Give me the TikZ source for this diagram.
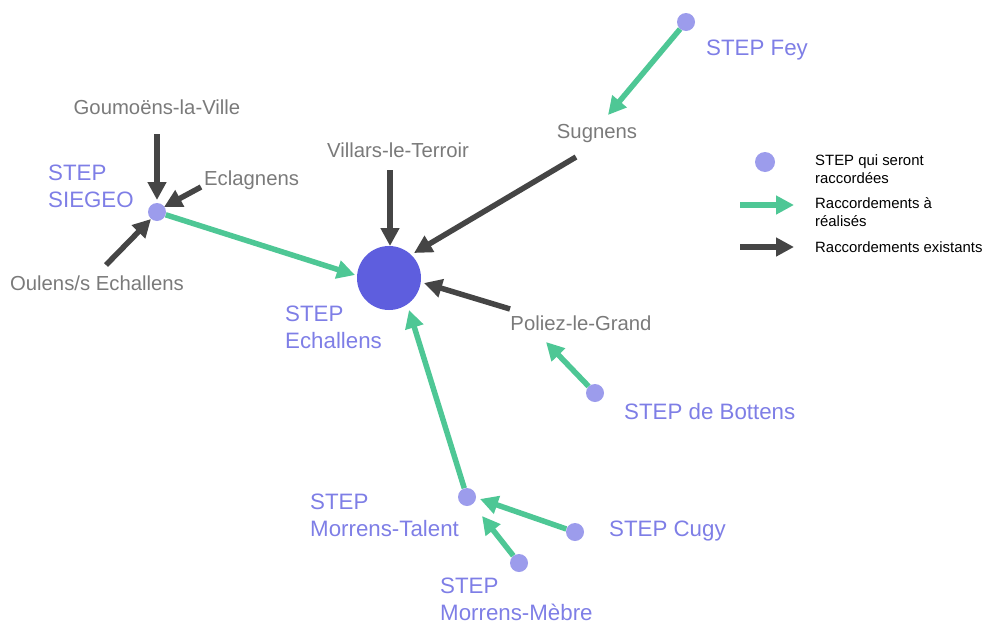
\documentclass[tikz,border=0pt]{standalone}
\usepackage{fontspec}
\setmainfont{Liberation Sans}
\usetikzlibrary{arrows.meta}
\definecolor{grn}{HTML}{4EC795}
\definecolor{dk}{HTML}{454545}
\definecolor{dotc}{HTML}{9C9CEC}
\definecolor{bigc}{HTML}{5E5EDE}
\definecolor{purp}{HTML}{7E7EE6}
\definecolor{gtxt}{HTML}{7A7A7A}
\tikzset{
  x=1pt,y=-1pt,
  dot/.style={circle,fill=dotc,inner sep=0pt,minimum size=18pt},
  steplbl/.style={text=purp,font=\fontsize{22.3}{27}\selectfont,align=left,inner sep=0pt},
  townlbl/.style={text=gtxt,font=\fontsize{20.3}{24}\selectfont,inner sep=0pt},
  leglbl/.style={text=black,font=\fontsize{14.9}{18}\selectfont,align=left,inner sep=0pt,anchor=west},
  garrow/.style={draw=grn,line width=5.5pt,-{Triangle[length=18pt,width=18pt]}},
  darrow/.style={draw=dk,line width=5.5pt,-{Triangle[length=18pt,width=18pt]}},
}
\begin{document}
\begin{tikzpicture}
\useasboundingbox (0,0) rectangle (982,624);
% stations
\node[circle,fill=bigc,inner sep=0pt,minimum size=64pt] (ech) at (389,278) {};
\node[dot] (siegeo) at (157,212) {};
\node[dot] (fey) at (686,22) {};
\node[dot] (bott) at (595,393) {};
\node[dot] (talent) at (467,497) {};
\node[dot] (cugy) at (575,532) {};
\node[dot] (mebre) at (519,563) {};
% purple labels
\node[steplbl,anchor=west] (lsiegeo) at (48,186) {STEP\\SIEGEO};
\node[steplbl,anchor=west] (lech) at (285,327) {STEP\\Echallens};
\node[steplbl,anchor=west] (lfey) at (706,50) {STEP Fey};
\node[steplbl,anchor=west] (lbott) at (624,412) {STEP de Bottens};
\node[steplbl,anchor=west] (lcugy) at (609,531) {STEP Cugy};
\node[steplbl,anchor=west] (ltalent) at (310,515) {STEP\\Morrens-Talent};
\node[steplbl,anchor=west] (lmebre) at (440,599) {STEP\\Morrens-Mèbre};
% grey town labels
\node[townlbl] (goum) at (157,107) {Goumoëns-la-Ville};
\node[townlbl,anchor=west] (ecla) at (204,180) {Eclagnens};
\node[townlbl] (oulens) at (97,283) {Oulens/s Echallens};
\node[townlbl] (vill) at (398,150) {Villars-le-Terroir};
\node[townlbl] (sugn) at (597,134) {Sugnens};
\node[townlbl] (poliez) at (581,323) {Poliez-le-Grand};
% free ends
\coordinate (goumS) at (157,134);
\coordinate (siegN) at (157,200);
\coordinate (eclaS) at (201,187);
\coordinate (siegE) at (164,207);
\coordinate (oulN) at (106,265);
\coordinate (siegSW) at (151,219);
\coordinate (siegEnd) at (355,275);
\coordinate (villS) at (390,170);
\coordinate (echN) at (390,246);
\coordinate (sugnS) at (576,157);
\coordinate (echNE) at (414,253);
\coordinate (polW) at (510,309);
\coordinate (echE) at (424,283);
\coordinate (sugnNE) at (608,115);
\coordinate (polS) at (546,342);
\coordinate (echS) at (409,310);
\coordinate (talE) at (480,499);
\coordinate (talS) at (482,516);
% connectors
\draw[darrow] (goumS) -- (siegN);
\draw[darrow] (eclaS) -- (siegE);
\draw[darrow] (oulN) -- (siegSW);
\draw[garrow] (siegeo) -- (siegEnd);
\draw[darrow] (villS) -- (echN);
\draw[darrow] (sugnS) -- (echNE);
\draw[darrow] (polW) -- (echE);
\draw[garrow] (fey) -- (sugnNE);
\draw[garrow] (bott) -- (polS);
\draw[garrow] (talent) -- (echS);
\draw[garrow] (cugy) -- (talE);
\draw[garrow] (mebre) -- (talS);
% legend
\node[circle,fill=dotc,inner sep=0pt,minimum size=20pt] (legdot) at (765,162) {};
\node[leglbl] (legt1) at (815,169) {STEP qui seront\\raccordées};
\coordinate (lg1a) at (740,205);
\coordinate (lg1b) at (794,205);
\draw[garrow,line width=6pt] (lg1a) -- (lg1b);
\node[leglbl] (legt2) at (815,212) {Raccordements à\\réalisés};
\coordinate (lg2a) at (740,247);
\coordinate (lg2b) at (794,247);
\draw[darrow,line width=6pt] (lg2a) -- (lg2b);
\node[leglbl] (legt3) at (815,247) {Raccordements existants};
\end{tikzpicture}
\end{document}
